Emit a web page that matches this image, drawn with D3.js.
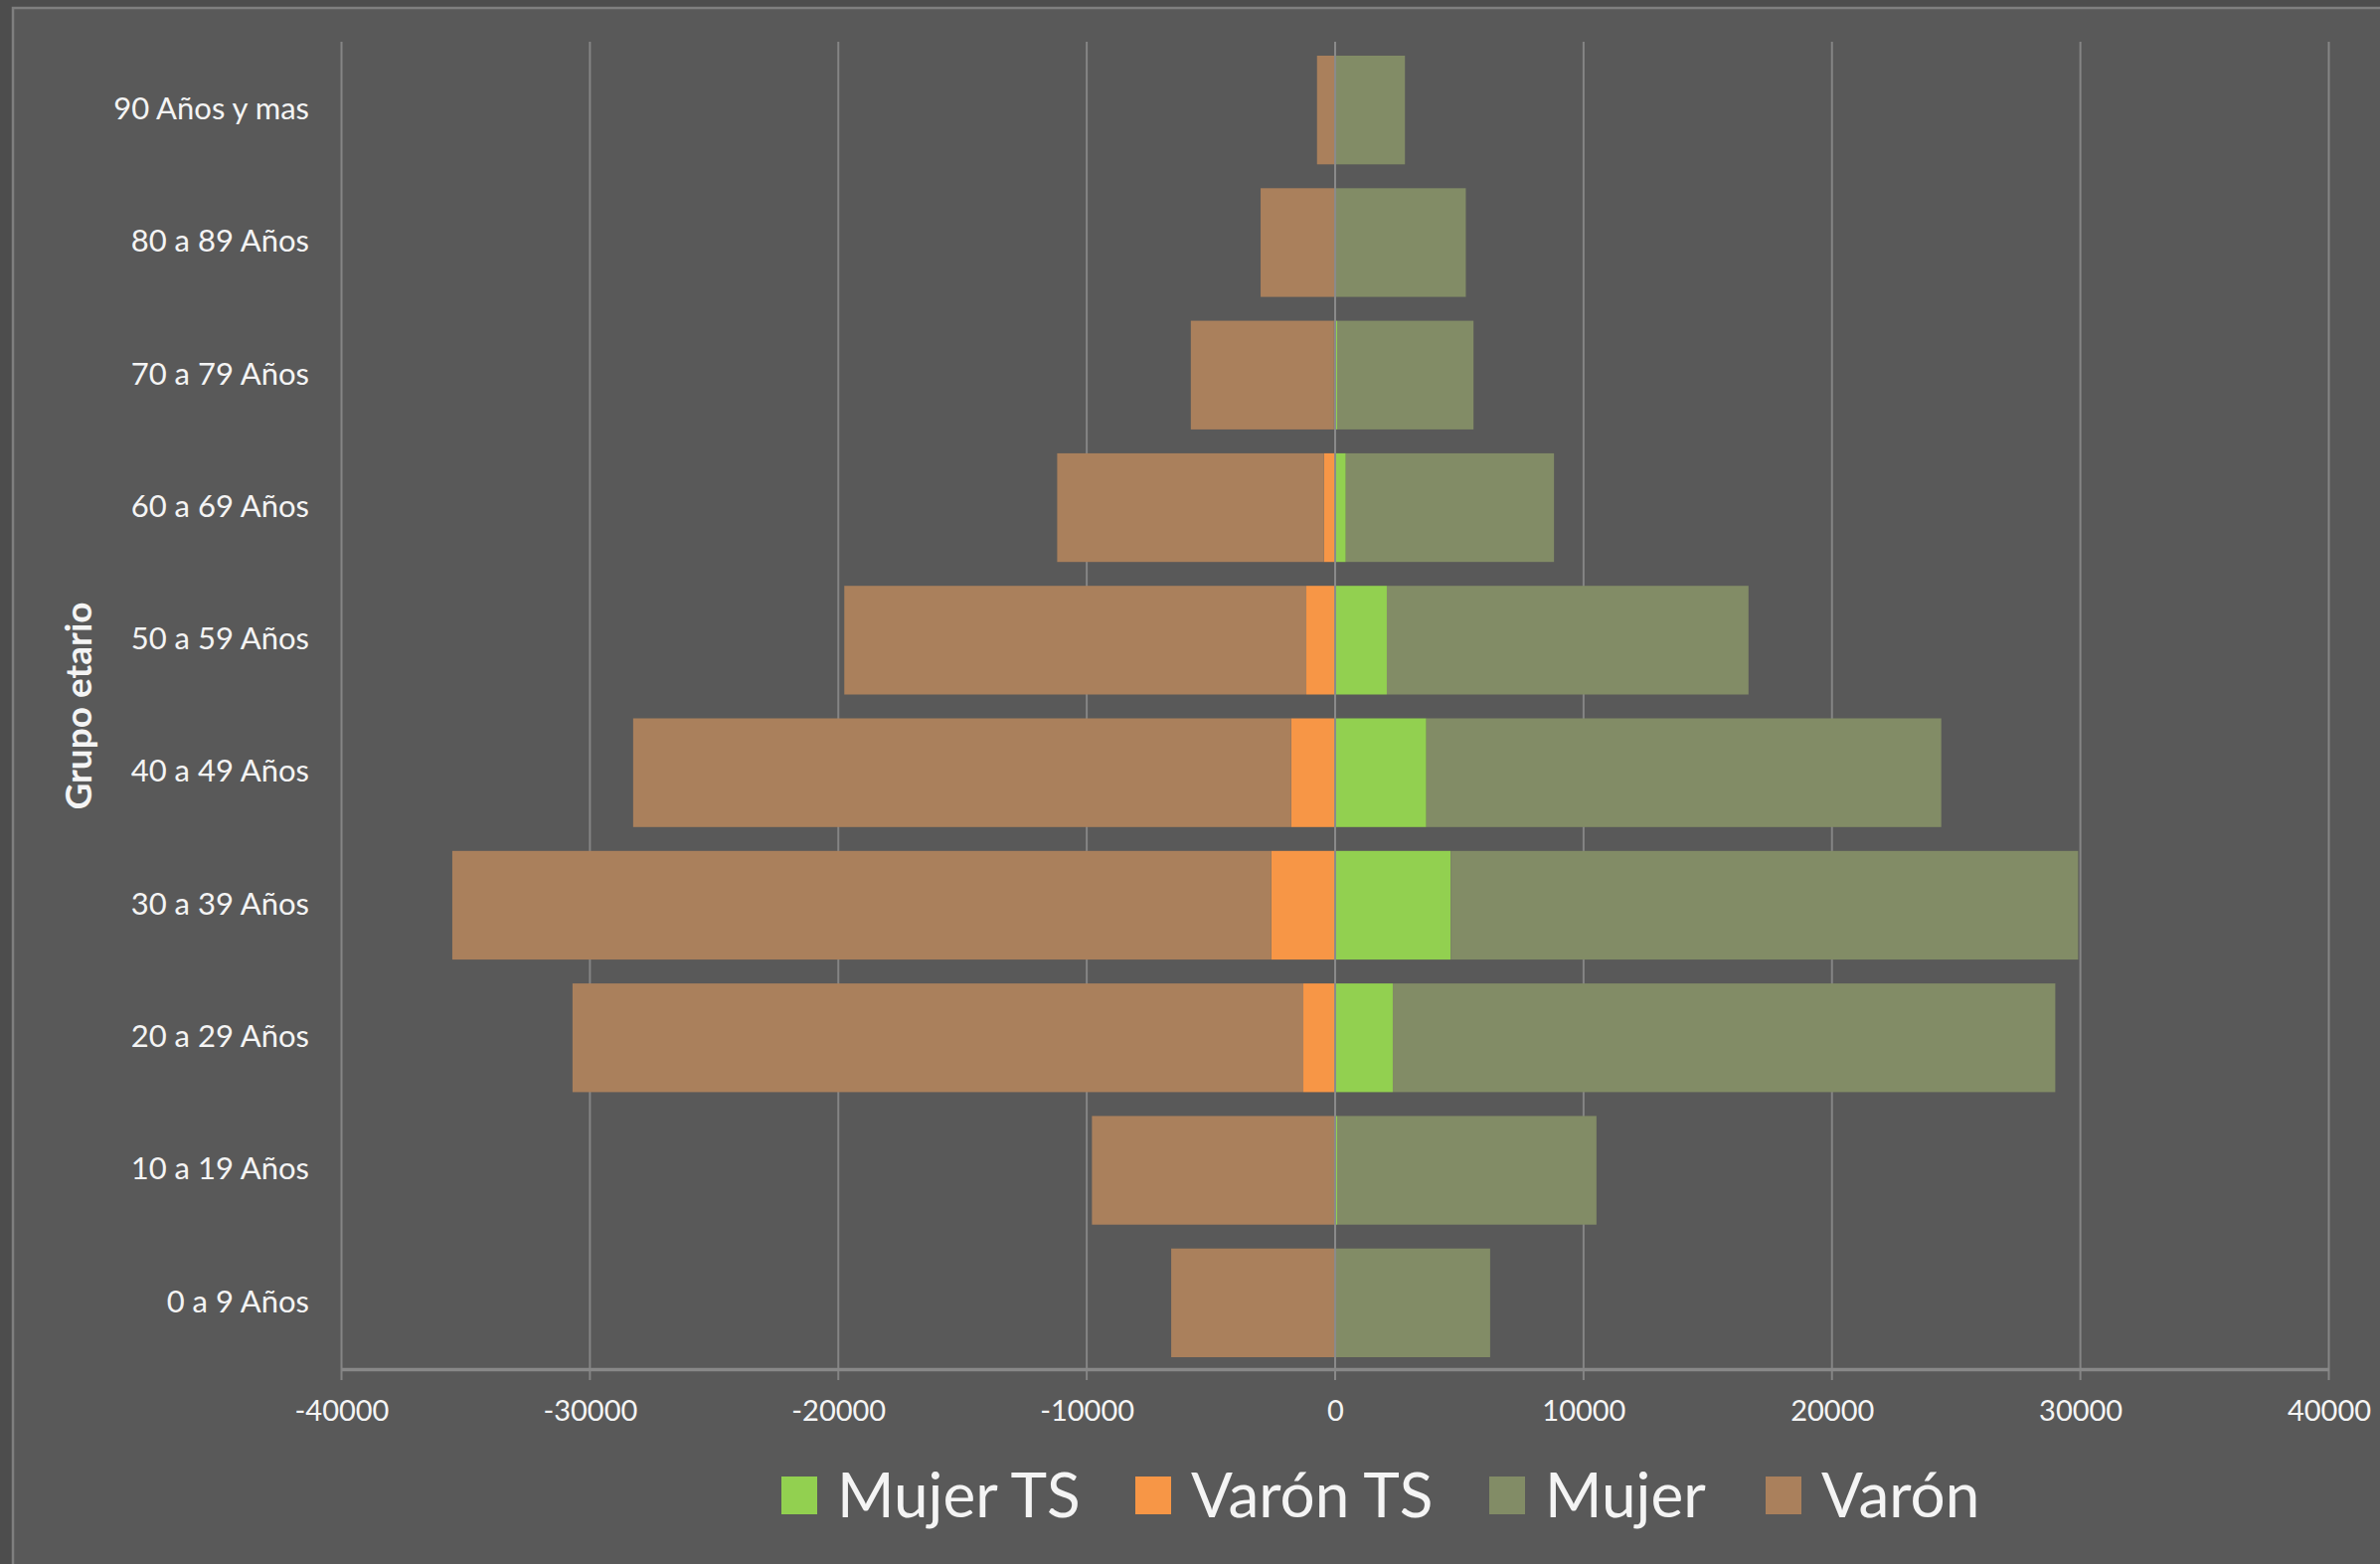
<!DOCTYPE html>
<html>
<head>
<meta charset="utf-8">
<script src="https://cdn.jsdelivr.net/npm/d3@7"></script>
<style>
  html, body { margin: 0; padding: 0; background: #4d4d4d; }
  svg { display: block; }
  text { font-family: Lato, "Open Sans", sans-serif; fill: #f4f4f4; }
</style>
</head>
<body>
<svg id="chart" width="2394" height="1573"></svg>
<script>
// Age groups, top to bottom as drawn.
const groups = ["90 Años y mas", "80 a 89 Años", "70 a 79 Años", "60 a 69 Años",
    "50 a 59 Años", "40 a 49 Años", "30 a 39 Años", "20 a 29 Años",
    "10 a 19 Años", "0 a 9 Años"];

// Series values (men are negative so they go left).
const mujerTS = [0, 0, 80, 430, 2080, 3670, 4650, 2320, 80, 0];
const varonTS = [0, 0, -50, -450, -1160, -1770, -2570, -1280, -30, 0];
const mujer = [2810, 5260, 5490, 8380, 14560, 20730, 25260, 26670, 10440, 6240];
const varon = [-730, -3000, -5760, -10740, -18600, -26490, -32970, -29420, -9760, -6600];

const seriesNames = ["Mujer TS", "Varón TS", "Mujer", "Varón"];
const seriesColors = ["#92d050", "#f79646", "#828c66", "#aa805c"];

const xTicks = [-40000, -30000, -20000, -10000, 0, 10000, 20000, 30000, 40000];

const svg = d3.select("#chart");

// Chart area with its thin border.
svg.append("rect")
    .attr("x", 13).attr("y", 8)
    .attr("width", 2400).attr("height", 1600)
    .attr("fill", "#595959")
    .attr("stroke", "#7f7f7f")
    .attr("stroke-width", 2.5);

let x = d3.scaleLinear().domain([-40000, 40000]).range([343.5, 2342.5]);
let y = d3.scaleBand().domain(groups).range([44, 1377])
    .paddingInner(0.18).paddingOuter(0.09);

// Vertical gridlines.
svg.append("g")
    .selectAll("line")
    .data(xTicks)
    .join("line")
    .attr("x1", d => x(d)).attr("x2", d => x(d))
    .attr("y1", 42).attr("y2", 1388)
    .attr("stroke", "#858585")
    .attr("stroke-width", 2);

// Build stacked rows: positive and negative values stack apart, like Excel.
let table = groups.map(function(g, i) {
    return { group: g, vals: [mujerTS[i], varonTS[i], mujer[i], varon[i]] };
});

let segments = [];
table.forEach(function(row) {
    let pos = 0, neg = 0;
    row.vals.forEach(function(v, s) {
        let start, end;
        if (v >= 0) { start = pos; end = pos + v; pos = end; }
        else { start = neg; end = neg + v; neg = end; }
        segments.push({ group: row.group, series: s, x0: Math.min(start, end), x1: Math.max(start, end) });
    });
});

svg.append("g")
    .selectAll("rect")
    .data(segments.filter(d => d.x1 > d.x0))
    .join("rect")
    .attr("x", d => x(d.x0))
    .attr("width", d => x(d.x1) - x(d.x0))
    .attr("y", d => y(d.group))
    .attr("height", y.bandwidth())
    .attr("fill", d => seriesColors[d.series]);

// Zero line drawn over the bars.
svg.append("line")
    .attr("x1", x(0)).attr("x2", x(0))
    .attr("y1", 42).attr("y2", 1388)
    .attr("stroke", "#8a8a8a")
    .attr("stroke-width", 2);

// Bottom axis (plain hyphen for negatives, as in the original).
let xAxis = d3.axisBottom(x).tickValues(xTicks).tickSize(0).tickPadding(0)
    .tickFormat(d => String(d));
let gx = svg.append("g").attr("transform", "translate(0,1377)").call(xAxis);
gx.select(".domain").attr("stroke", "#888888").attr("stroke-width", 3.5);
gx.selectAll(".tick text")
    .attr("y", 42)
    .attr("dy", "0.35em")
    .style("font-size", "29px")
    .style("fill", "#f4f4f4");

// Left category labels.
let yAxis = d3.axisLeft(y).tickSize(0).tickPadding(0);
let gy = svg.append("g").attr("transform", "translate(311,0)").call(yAxis);
gy.select(".domain").remove();
gy.selectAll(".tick text")
    .attr("dy", "0.3em")
    .style("font-size", "31px")
    .style("fill", "#f4f4f4");

// Axis title.
svg.append("text")
    .attr("transform", "translate(79,710) rotate(-90)")
    .attr("text-anchor", "middle")
    .attr("dy", "0.35em")
    .style("font-size", "37px")
    .style("font-weight", "bold")
    .text("Grupo etario");

// Legend.
const legendX = [786, 1142, 1498, 1776];
let legend = svg.append("g")
    .selectAll("g")
    .data(seriesNames)
    .join("g")
    .attr("transform", (d, i) => "translate(" + legendX[i] + ",1504)");

legend.append("rect")
    .attr("x", 0).attr("y", -19)
    .attr("width", 36).attr("height", 38)
    .attr("fill", (d, i) => seriesColors[i]);

legend.append("text")
    .attr("x", 56)
    .attr("dy", "0.35em")
    .style("font-size", "62px")
    .text(d => d);
</script>
</body>
</html>
